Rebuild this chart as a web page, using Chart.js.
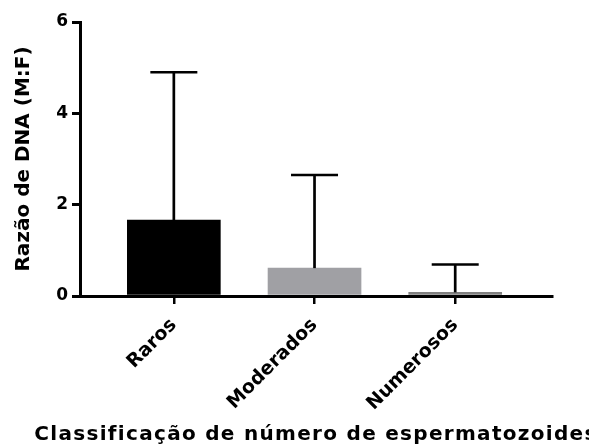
<!DOCTYPE html>
<html>
<head>
<meta charset="utf-8">
<script src="https://cdn.jsdelivr.net/npm/chart.js@4/dist/chart.umd.min.js"></script>
<style>
html,body{margin:0;padding:0;background:#fff;overflow:hidden;}
#wrap{width:589px;height:445px;position:relative;}
</style>
</head>
<body>
<div id="wrap"><canvas id="c" width="589" height="445"></canvas></div>
<script>
const categories = ['Raros', 'Moderados', 'Numerosos'];
const positions = [0, 1, 2];
const means = [1.66, 0.61, 0.08];
const sds = [3.24, 2.04, 0.61];
const barColors = ['#000000', '#a0a0a4', '#808080'];
const yTicks = [0, 2, 4, 6];

const FONT = '"DejaVu Sans", Verdana, sans-serif';

const errorBars = {
  id: 'errorBars',
  afterDatasetsDraw(chart) {
    const ctx = chart.ctx;
    const meta = chart.getDatasetMeta(0);
    const y = chart.scales.y;
    ctx.save();
    ctx.strokeStyle = '#000';
    meta.data.forEach((bar, i) => {
      const top = y.getPixelForValue(means[i] + sds[i]);
      ctx.lineWidth = 2.7;
      ctx.beginPath();
      ctx.moveTo(bar.x, bar.y);
      ctx.lineTo(bar.x, top);
      ctx.stroke();
      ctx.lineWidth = 2.4;
      ctx.beginPath();
      ctx.moveTo(bar.x - 23.5, top);
      ctx.lineTo(bar.x + 23.5, top);
      ctx.stroke();
    });
    ctx.restore();
  }
};

// let the x-axis title run wider than the plot area (as in the reference), with slight letter spacing
const wideXTitle = {
  id: 'wideXTitle',
  beforeDraw(chart) {
    const xs = chart.scales.x;
    if (xs && !xs._wideTitle) {
      const orig = xs.drawTitle.bind(xs);
      xs.drawTitle = function () {
        const c = this.ctx;
        const l = this.left, r = this.right;
        this.left = l - 60;
        this.right = r + 60;
        c.letterSpacing = '1.3px';
        orig();
        c.letterSpacing = '0px';
        this.left = l;
        this.right = r;
      };
      xs._wideTitle = true;
    }
  }
};

new Chart(document.getElementById('c'), {
  type: 'bar',
  data: {
    datasets: [{
      data: positions.map((p, i) => ({ x: p, y: means[i] })),
      backgroundColor: barColors,
      borderWidth: 0,
      barThickness: 93
    }]
  },
  options: {
    responsive: false,
    animation: false,
    events: [],
    layout: { padding: { top: 22, right: 37, bottom: 0, left: 0 } },
    plugins: { legend: { display: false }, tooltip: { enabled: false } },
    scales: {
      x: {
        type: 'linear',
        offset: false,
        min: -0.667,
        max: 2.688,
        afterBuildTicks(scale) { scale.ticks = positions.map(v => ({ value: v })); },
        afterFit(scale) { scale.height = 445 - 296; },
        ticks: {
          autoSkip: false,
          minRotation: 45,
          maxRotation: 45,
          color: '#000',
          font: { family: FONT, size: 19, weight: 'bold' },
          padding: 10,
          callback: (v) => categories[positions.indexOf(v)]
        },
        grid: { offset: false, drawOnChartArea: false, drawTicks: true, tickLength: 8, color: '#000', lineWidth: 2.5 },
        border: { display: true, color: '#000', width: 3 },
        title: {
          display: true,
          text: 'Classificação de número de espermatozoides',
          color: '#000',
          font: { family: FONT, size: 20, weight: 'bold', lineHeight: 1 },
          padding: { top: 0, bottom: 0 }
        }
      },
      y: {
        min: 0,
        max: 6,
        afterBuildTicks(scale) { scale.ticks = yTicks.map(v => ({ value: v })); },
        afterFit(scale) { scale.width = 80; },
        ticks: {
          color: '#000',
          font: { family: FONT, size: 17, weight: 'bold' },
          padding: 4
        },
        grid: { drawOnChartArea: false, drawTicks: true, tickLength: 8, color: '#000', lineWidth: 3 },
        border: { display: true, color: '#000', width: 3 },
        title: {
          display: true,
          text: 'Razão de DNA (M:F)',
          color: '#000',
          font: { family: FONT, size: 20, weight: 'bold' },
          padding: { top: 12, bottom: 0 }
        }
      }
    }
  },
  plugins: [errorBars, wideXTitle]
});
</script>
</body>
</html>
